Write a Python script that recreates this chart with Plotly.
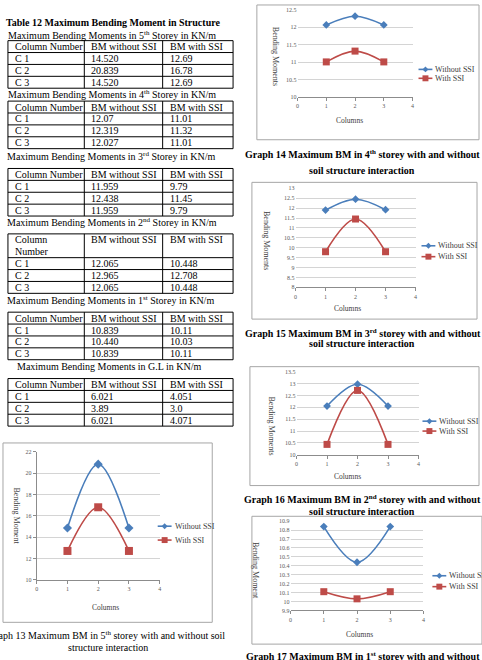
import plotly.graph_objects as go

W, H = 482, 660

# ---------------- table data ----------------
table_heading = "Table 12 Maximum Bending Moment in Structure"
storey_labels = ["5<sup>th</sup> Storey", "4<sup>th</sup> Storey", "3<sup>rd</sup> Storey",
                 "2<sup>nd</sup> Storey", "1<sup>st</sup> Storey", "G.L"]
column_names = ["C 1", "C 2", "C 3"]
header = ["Column Number", "BM without SSI", "BM with SSI"]
bm_without_ssi = [["14.520", "20.839", "14.520"],
                  ["12.07", "12.319", "12.027"],
                  ["11.959", "12.438", "11.959"],
                  ["12.065", "12.965", "12.065"],
                  ["10.839", "10.440", "10.839"],
                  ["6.021", "3.89", "6.021"]]
bm_with_ssi = [["12.69", "16.78", "12.69"],
               ["11.01", "11.32", "11.01"],
               ["9.79", "11.45", "9.79"],
               ["10.448", "12.708", "10.448"],
               ["10.11", "10.03", "10.11"],
               ["4.051", "3.0", "4.071"]]

# ---------------- graph data ----------------
graph_columns = [1, 2, 3]
g13_without = [14.85, 20.85, 14.85]
g13_with = [12.7, 16.8, 12.7]
g14_without = [12.07, 12.32, 12.07]
g14_with = [11.01, 11.32, 11.01]
g15_without = [11.9, 12.45, 11.92]
g15_with = [9.8, 11.45, 9.8]
g16_without = [12.05, 12.97, 12.05]
g16_with = [10.44, 12.71, 10.44]
g17_without = [10.84, 10.44, 10.84]
g17_with = [10.11, 10.03, 10.11]
series_names = ["Without SSI", "With SSI"]

# ---------------- helpers ----------------
def px(x):
    return x / W

def py(y):
    return 1 - y / H

SERIF = "Liberation Serif"
BLUE = "#4a7ebb"
RED = "#be4b48"

fig = go.Figure()
shapes = []
annotations = []

def text(x, y, s, size=10, xanchor="left", yanchor="middle", color="black", angle=0):
    annotations.append(dict(x=px(x), y=py(y), xref="paper", yref="paper", text=s,
                            showarrow=False, xanchor=xanchor, yanchor=yanchor,
                            textangle=angle, font=dict(family=SERIF, size=size, color=color)))

def line(x0, y0, x1, y1, color="black", width=1):
    shapes.append(dict(type="line", xref="paper", yref="paper", x0=px(x0), y0=py(y0),
                       x1=px(x1), y1=py(y1), line=dict(color=color, width=width)))

# ---------------- tables ----------------
text(2, 20, "<b>" + table_heading + "</b>", size=10)
title_pos = [(4, 32), (4, 92), (3, 154), (3, 221), (3, 300), (13, 367)]
row_lines = [[38, 50, 62, 74, 86], [99, 111, 123, 135, 147], [167, 179, 191, 203, 215],
             [233, 257, 269, 281, 293], [312, 324, 336, 348, 360], [379, 391, 403, 415, 427]]
col_x = [6, 83, 162, 233]

for t in range(6):
    tx, ty = title_pos[t]
    text(tx, ty, "Maximum Bending Moments in " + storey_labels[t] + " in KN/m", size=10)
    rl = row_lines[t]
    for yy in rl:
        line(col_x[0], yy, col_x[-1], yy)
    for xx in col_x:
        line(xx, rl[0], xx, rl[-1])
    tall = (rl[1] - rl[0]) > 16
    for c in range(3):
        h = header[c]
        if tall:
            words = h.split(" ", 1) if c == 0 else [h]
            for j, wd in enumerate(words):
                text(col_x[c] + 5, rl[0] + 6 + 12 * j, wd)
        else:
            text(col_x[c] + 5, (rl[0] + rl[1]) / 2, h)
    for r in range(3):
        yc = (rl[r + 1] + rl[r + 2]) / 2
        text(col_x[0] + 5, yc, column_names[r])
        text(col_x[1] + 5, yc, bm_without_ssi[t][r])
        text(col_x[2] + 5, yc, bm_with_ssi[t][r])

# ---------------- charts ----------------
charts = [
    dict(wo=g13_without, w=g13_with, plot=(35, 159, 453, 582), yr=(10, 22), dt=2,
         frame=(1, 444, 212, 625), leg=(157, 528, 542), yt=("Bending Moment", 15, 518),
         xt=(104, 610), yline=True, msq=8, mdi=7,
         cap=[("Graph 13 Maximum BM in 5<sup>th</sup> storey with and without soil", 105, 638),
              ("structure interaction", 107, 650)], bold=False),
    dict(wo=g14_without, w=g14_with, plot=(298, 414, 7, 95), yr=(10, 12.5), dt=0.5,
         frame=(257, 2, 481, 138), leg=(420, 67, 76), yt=("Bending Moments", 276, 54),
         xt=(350, 119), yline=False, msq=7, mdi=6,
         cap=[("Graph 14 Maximum BM in 4<sup>th</sup> storey with and without", 364, 152),
              ("soil structure interaction", 363, 169)], bold=True),
    dict(wo=g15_without, w=g15_with, plot=(296, 417, 187, 287), yr=(8, 13), dt=0.5,
         frame=(252, 181, 479, 319), leg=(423, 245, 256), yt=("Bending Moments", 266, 240),
         xt=(348, 308), yline=False, msq=7, mdi=6,
         cap=[("Graph 15 Maximum BM in 3<sup>rd</sup> storey with and without", 364, 333),
              ("soil structure interaction", 363, 344)], bold=True),
    dict(wo=g16_without, w=g16_with, plot=(297, 420, 372, 456), yr=(10, 13.5), dt=0.5,
         frame=(250, 367, 481, 487), leg=(424, 422, 432), yt=("Bending Moments", 272, 427),
         xt=(348, 478), yline=False, msq=7, mdi=6,
         cap=[("Graph 16 Maximum BM in 2<sup>nd</sup> storey with and without", 364, 501),
              ("soil structure interaction", 363, 513)], bold=True),
    dict(wo=g17_without, w=g17_with, plot=(291, 425, 523, 613), yr=(9.9, 10.9), dt=0.1,
         frame=(252, 518, 484, 647), leg=(434, 578, 589), yt=("Bending Moment", 255, 573),
         xt=(360, 637), yline=False, msq=7, mdi=6,
         cap=[("Graph 17 Maximum BM in 1<sup>st</sup> storey with and without", 364, 659)], bold=True),
]

layout_axes = {}
for i, ch in enumerate(charts):
    k = "" if i == 0 else str(i + 1)
    xa, ya = "x" + k, "y" + k
    x0, x1, yt_, yb = ch["plot"]
    fig.add_trace(go.Scatter(x=graph_columns, y=ch["wo"], mode="lines+markers", name=series_names[0],
                             xaxis=xa, yaxis=ya, showlegend=False, cliponaxis=False,
                             line=dict(color=BLUE, width=1.6, shape="spline", smoothing=1.0),
                             marker=dict(symbol="diamond", size=ch["mdi"], color=BLUE)))
    fig.add_trace(go.Scatter(x=graph_columns, y=ch["w"], mode="lines+markers", name=series_names[1],
                             xaxis=xa, yaxis=ya, showlegend=False, cliponaxis=False,
                             line=dict(color=RED, width=1.6, shape="spline", smoothing=1.0),
                             marker=dict(symbol="square", size=ch["msq"], color=RED)))
    layout_axes["xaxis" + k] = dict(domain=[px(x0), px(x1)], range=[0, 4], dtick=1, tick0=0,
                                    showgrid=False, zeroline=False, showline=True, linecolor="#8c8c8c",
                                    ticks="outside", ticklen=3, tickcolor="#8c8c8c",
                                    tickfont=dict(family=SERIF, size=6, color="#595959"),
                                    anchor=ya, fixedrange=True)
    layout_axes["yaxis" + k] = dict(domain=[py(yb), py(yt_)], range=list(ch["yr"]), dtick=ch["dt"],
                                    tick0=ch["yr"][0], showgrid=True, gridcolor="#d4d4d4", gridwidth=1,
                                    zeroline=False, showline=ch["yline"], linecolor="#8c8c8c",
                                    ticks="outside" if ch["yline"] else "", ticklen=3, tickcolor="#8c8c8c",
                                    tickfont=dict(family=SERIF, size=6, color="#595959"),
                                    anchor=xa, fixedrange=True)
    # frame
    fx0, fy0, fx1, fy1 = ch["frame"]
    shapes.append(dict(type="rect", xref="paper", yref="paper", x0=px(fx0), y0=py(fy1),
                       x1=px(fx1), y1=py(fy0), line=dict(color="#a6a6a6", width=1)))
    # axis titles
    t, tx, ty = ch["yt"]
    text(tx, ty, t, size=8, xanchor="center", angle=90, color="#404040")
    text(ch["xt"][0], ch["xt"][1], "Columns", size=7.5, xanchor="center", color="#404040")
    # legend
    lx, ly1, ly2 = ch["leg"]
    for (yy, col, sym, nm) in [(ly1, BLUE, "d", series_names[0]), (ly2, RED, "s", series_names[1])]:
        line(lx, yy, lx + 14, yy, color=col, width=1.6)
        cx = lx + 7
        if sym == "d":
            shapes.append(dict(type="path", xref="paper", yref="paper", fillcolor=col,
                               line=dict(color=col, width=0),
                               path=f"M {px(cx)},{py(yy-3)} L {px(cx+3)},{py(yy)} L {px(cx)},{py(yy+3)} L {px(cx-3)},{py(yy)} Z"))
        else:
            shapes.append(dict(type="rect", xref="paper", yref="paper", fillcolor=col,
                               line=dict(color=col, width=0),
                               x0=px(cx - 3), x1=px(cx + 3), y0=py(yy + 3), y1=py(yy - 3)))
        text(lx + 15, yy, nm, size=8, color="#404040")
    # captions
    for (s, cx_, cy_) in ch["cap"]:
        text(cx_, cy_, ("<b>" + s + "</b>") if ch["bold"] else s, size=10, xanchor="center")

fig.update_layout(width=W, height=H, margin=dict(l=0, r=0, t=0, b=0),
                  paper_bgcolor="white", plot_bgcolor="white", showlegend=False,
                  shapes=shapes, annotations=annotations, **layout_axes)

fig.write_html("out.html")
